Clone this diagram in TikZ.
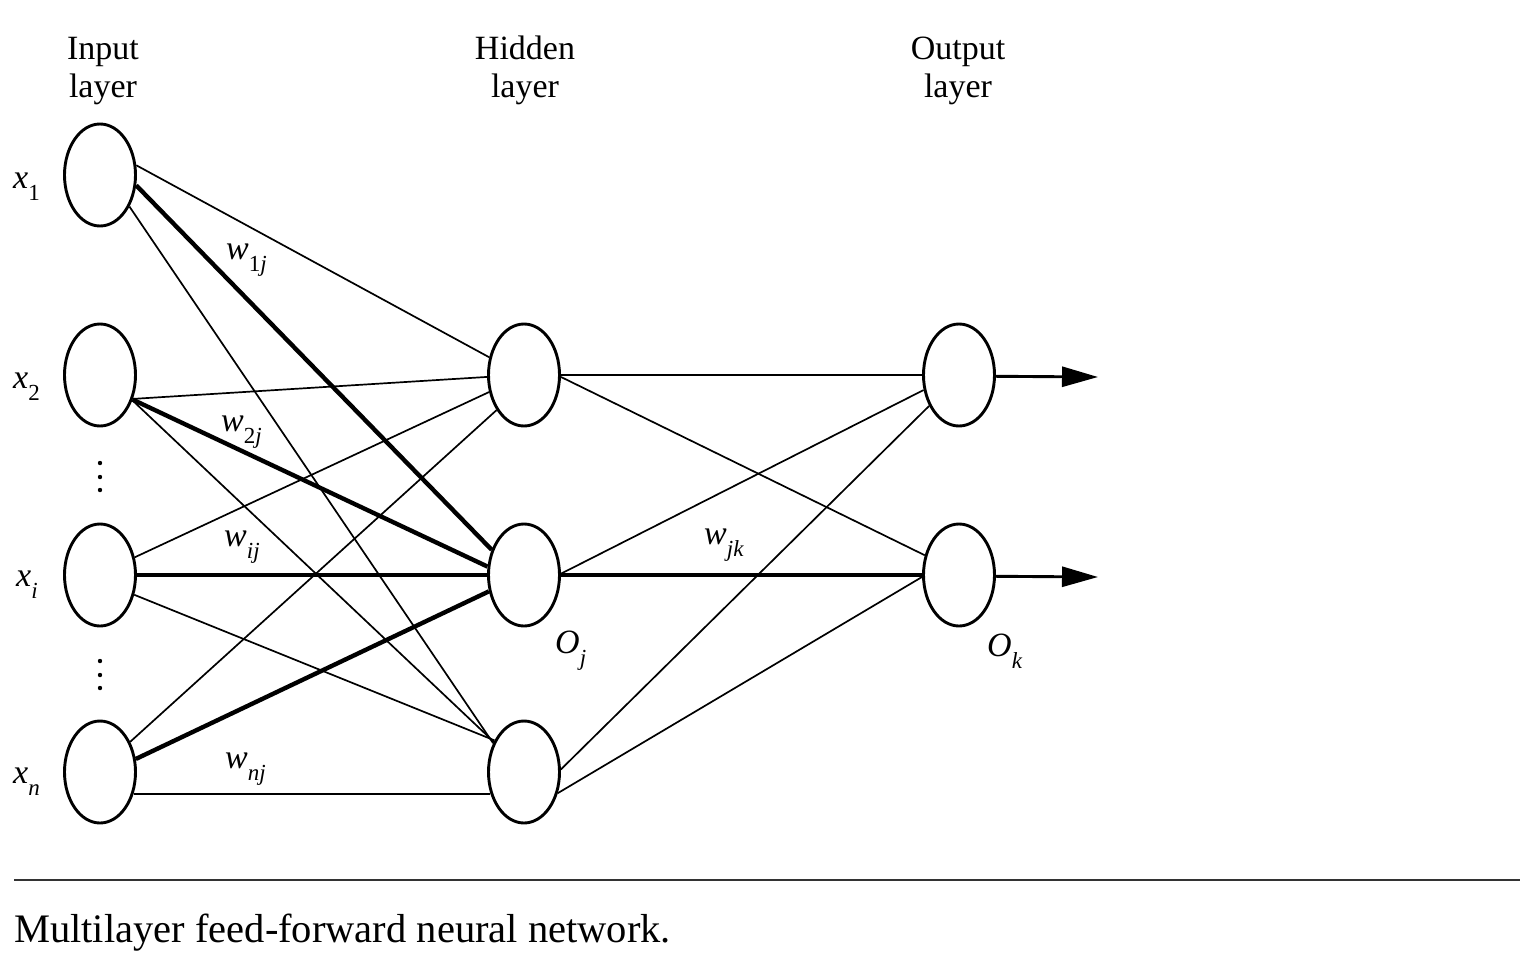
\documentclass[tikz,border=0pt]{standalone}
\usepackage{fontspec}
\setmainfont{Liberation Serif}
\usetikzlibrary{shapes.geometric,arrows.meta}
\newcommand\lbsub[2]{{\fontsize{34}{34}\selectfont\itshape #1\/}\raisebox{-12pt}{\fontsize{23}{23}\selectfont #2}}
\begin{document}
\begin{tikzpicture}[x=1pt,y=-1pt,
  neuron/.style={ellipse,draw,line width=2.9pt,minimum width=71pt,minimum height=102pt,inner sep=0pt},
  thinedge/.style={line width=1.7pt},
  thickedge/.style={line width=4.4pt},
  outarrow/.style={line width=2.9pt,-{Triangle[length=36pt,width=20pt]}},
  title/.style={align=center,inner sep=0pt,anchor=north,font=\fontsize{34}{38}\selectfont},
  lbl/.style={anchor=base west,inner sep=0pt}]
\useasboundingbox (0,0) rectangle (1534,956);
% neurons
\node[neuron] (x1) at (100,175) {};
\node[neuron] (x2) at (100,375) {};
\node[neuron] (xi) at (100,575) {};
\node[neuron] (xn) at (100,772) {};
\node[neuron] (h1) at (524,375) {};
\node[neuron] (h2) at (524,575) {};
\node[neuron] (h3) at (524,772) {};
\node[neuron] (o1) at (959,375) {};
\node[neuron] (o2) at (959,575) {};
% input -> hidden
\draw[thinedge] (x1.15) -- (h1.153);
\draw[thickedge] (x1.-16) -- (h2.142);
\draw[thinedge] (x1.-47) -- (h3.137);
\draw[thinedge] (x2.-36) -- (h1.183);
\draw[thickedge] (x2.-37) -- (h2.167);
\draw[thinedge] (x2.-38) -- (h3.135);
\draw[thinedge] (xi.27) -- (h1.206);
\draw[thickedge] (xi.0) -- (h2.180);
\draw[thinedge] (xi.-30) -- (h3.133);
\draw[thinedge] (xn.45) -- (h1.232);
\draw[thickedge] (xn.20) -- (h2.205);
\draw[thinedge] (xn.-33) -- (h3.213);
% hidden -> output
\draw[thinedge] (h1.0) -- (o1.180);
\draw[thinedge] (h1.-3) -- (o2.150);
\draw[thinedge] (h2.2) -- (o1.203);
\draw[thickedge] (h2.0) -- (o2.180);
\draw[thinedge] (h3.4) -- (o1.226);
\draw[thinedge] (h3.-32) -- (o2.183);
% outputs
\coordinate (a1) at (1098,377);
\coordinate (a2) at (1098,577);
\draw[outarrow] (o1.-2) -- (a1);
\draw[outarrow] (o2.-2) -- (a2);
% titles
\node[title] (tin) at (103,35) {\rule{0pt}{24pt}Input\\layer};
\node[title] (thid) at (525,35) {\rule{0pt}{24pt}Hidden\\layer};
\node[title] (tout) at (958,35) {\rule{0pt}{24pt}Output\\layer};
% labels
\node[lbl] (lx1) at (13,188) {\lbsub{x}{1}};
\node[lbl] (lx2) at (13,388) {\lbsub{x}{2}};
\node[lbl] (lxi) at (16,586) {\lbsub{x}{\textit{i}}};
\node[lbl] (lxn) at (13,783) {\lbsub{x}{\textit{n}}};
\node[lbl] (lw1) at (226,259) {\lbsub{w}{1\textit{j}}};
\node[lbl] (lw2) at (221,431) {\lbsub{w}{2\textit{j}}};
\node[lbl] (lwi) at (224,546) {\lbsub{w}{\textit{ij}}};
\node[lbl] (lwn) at (225,768) {\lbsub{w}{\textit{nj}}};
\node[lbl] (lwjk) at (704,544) {\lbsub{w}{\textit{jk}}};
\node[lbl] (loj) at (555,653) {\lbsub{O}{\textit{j}}};
\node[lbl] (lok) at (987,656) {\lbsub{O}{\textit{k}}};
% vertical dots
\foreach \yy in {463,477,490,661,675,688} \fill (100,\yy) circle (2.2pt);
% caption
\coordinate (r1) at (14,880);
\coordinate (r2) at (1520,880);
\draw[line width=1.3pt,black!80] (r1) -- (r2);
\node[anchor=base west,inner sep=0pt,font=\fontsize{40.5}{48}\selectfont] (cap) at (14,942) {Multilayer feed-forward neural network.};
\end{tikzpicture}
\end{document}
